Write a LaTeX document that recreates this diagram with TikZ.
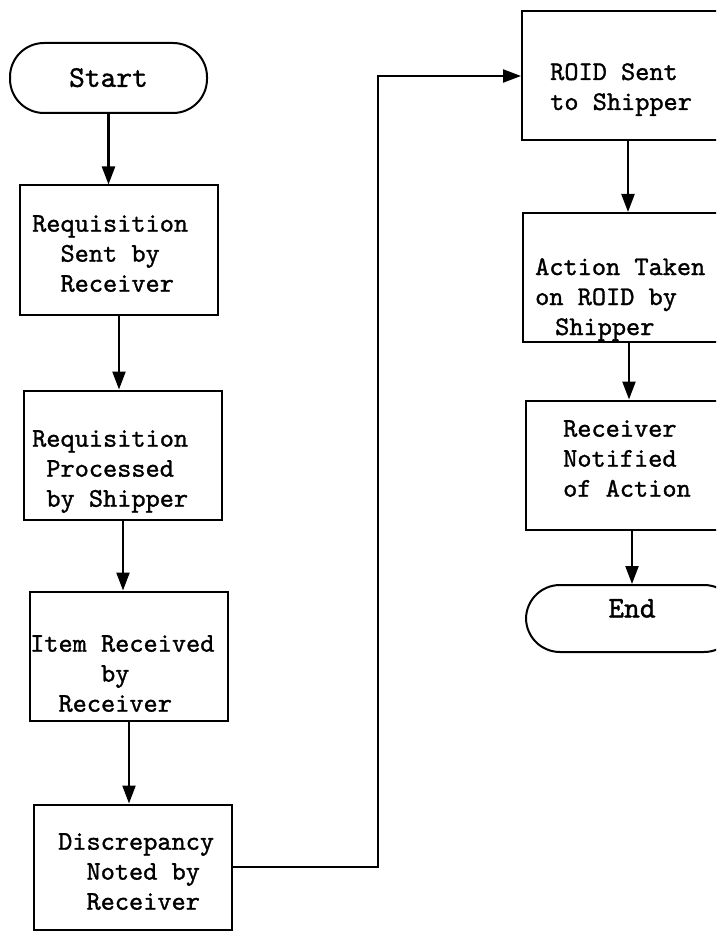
\documentclass[tikz,border=0pt]{standalone}
\usepackage{fontspec}
\newfontfamily\twfont{lmmono10-regular.otf}[FakeBold=1.2]
\usetikzlibrary{arrows.meta,calc}
\begin{document}
\begin{tikzpicture}[x=1pt,y=-1pt,
  box/.style={draw, line width=2pt, minimum width=198pt, minimum height=129pt, inner sep=0pt},
  rbox/.style={box, minimum width=212pt},
  term/.style={draw, line width=2pt, minimum width=197pt, minimum height=70pt,
    rounded corners=34pt, inner sep=0pt, text height=18pt,
    font=\fontsize{30}{32}\selectfont\twfont},
  txt/.style={anchor=north west, inner sep=0pt, align=left,
    font=\fontsize{27}{30}\selectfont\twfont},
  arr/.style={line width=2.3pt, -{Triangle[length=18pt,width=13pt]}}]
\useasboundingbox (0,0) rectangle (716,933);
\clip (0,0) rectangle (716,933);

% left column
\node[term] (start) at (108.5,78) {Start};
\node[box] (req) at (119,250) {};
\node[txt] (reqt) at (32,215) {Requisition\\\hphantom{xx}Sent by\\\hphantom{xx}Receiver};
\node[box] (proc) at (123,455) {};
\node[txt] (proct) at (32,430) {Requisition\\\hphantom{x}Processed\\\hphantom{x}by Shipper};
\node[box] (item) at (129,656) {};
\node[txt] (itemt) at (30,635) {Item Received\\\hphantom{xxxxx}by\\\hphantom{xx}Receiver};
\node[box, minimum height=125pt] (disc) at (133,867) {};
\node[txt] (disct) at (58,833) {Discrepancy\\\hphantom{xx}Noted by\\\hphantom{xx}Receiver};

% right column
\node[rbox] (roid) at (628,76) {};
\node[txt] (roidt) at (550,63) {ROID Sent\\to Shipper};
\node[rbox] (action) at (629,277.5) {};
\node[txt] (actiont) at (535,258) {Action Taken\\on ROID by\\\hspace*{20pt}Shipper};
\node[rbox] (notify) at (632,465) {};
\node[txt] (notifyt) at (563,420) {Receiver\\Notified\\of Action};
\node[term, minimum width=212pt, minimum height=67pt, text depth=20pt] (fin) at (632,618.5) {End};

% connectors
\draw[arr] (start.south) -- (start.south |- req.north);
\draw[arr] (req.south) -- (req.south |- proc.north);
\draw[arr] (proc.south) -- (proc.south |- item.north);
\draw[arr] (item.south) -- (item.south |- disc.north);
\coordinate (bend) at (378,76);
\draw[arr] (disc.east) -| (bend) -- (roid.west);
\draw[arr] (roid.south) -- (roid.south |- action.north);
\draw[arr] (action.south) -- (action.south |- notify.north);
\draw[arr] (notify.south) -- (notify.south |- fin.north);
\end{tikzpicture}
\end{document}
